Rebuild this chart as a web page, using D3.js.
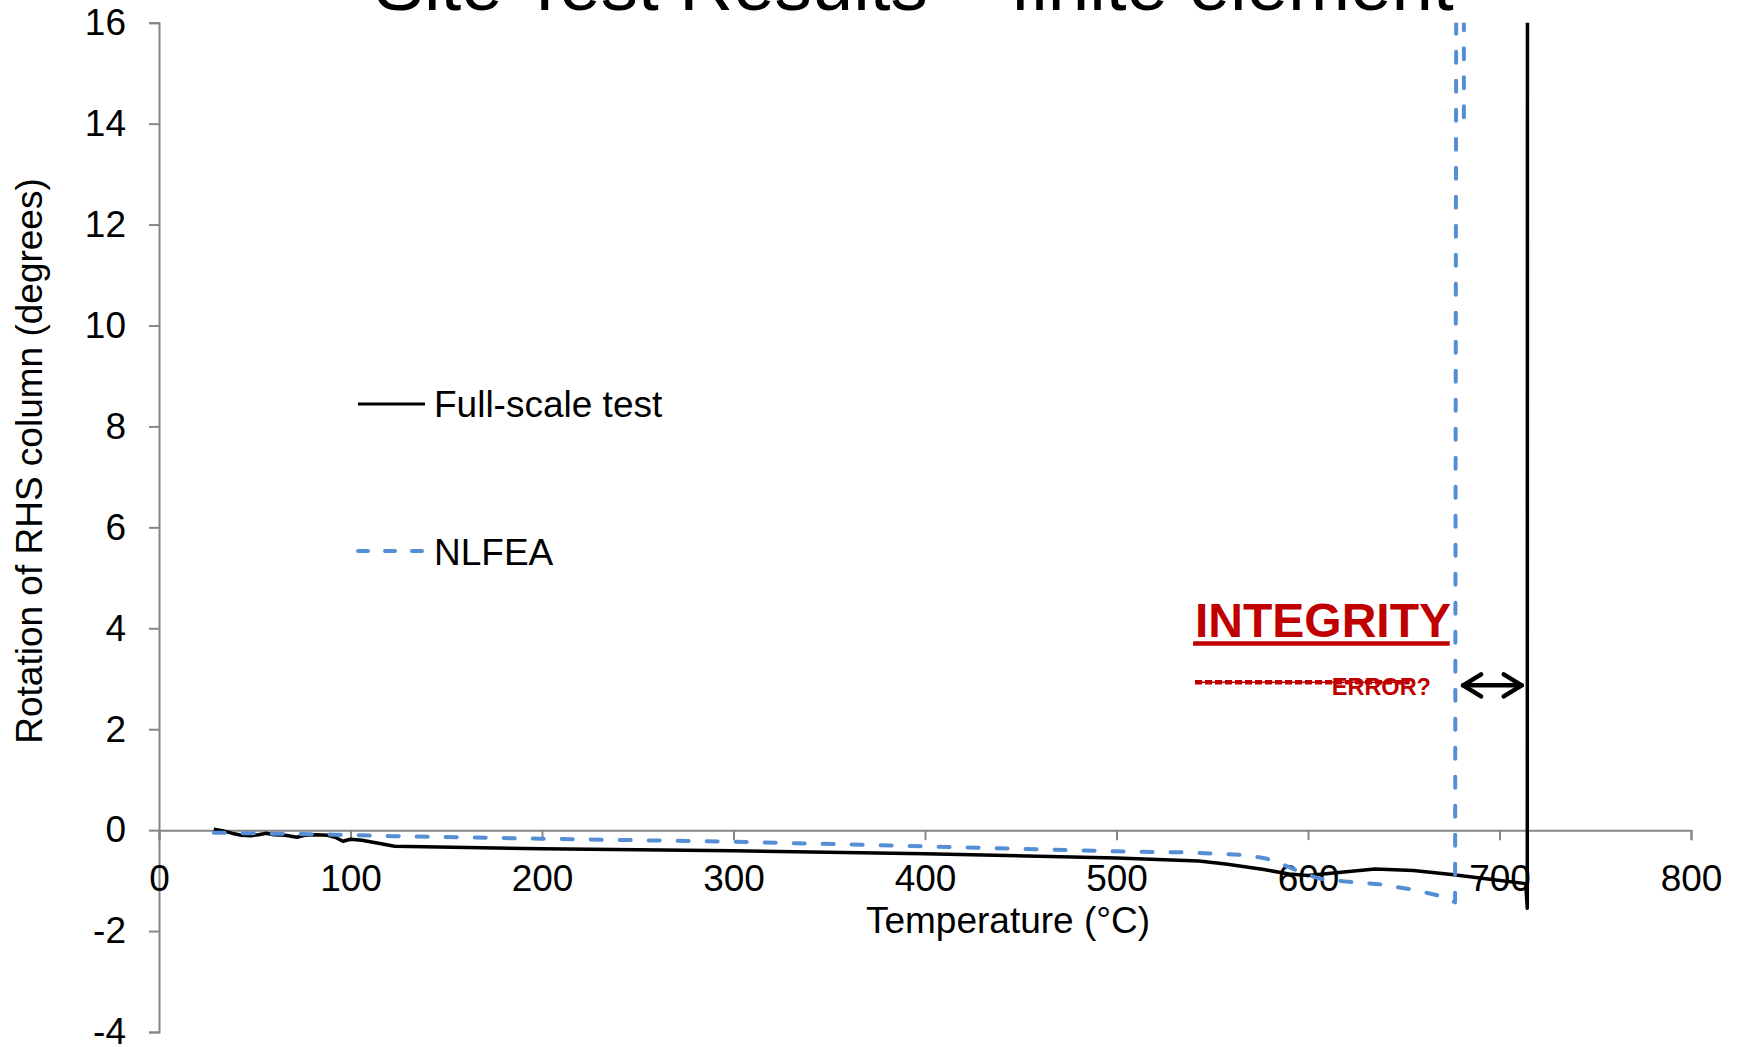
<!DOCTYPE html>
<html>
<head>
<meta charset="utf-8">
<script src="https://cdn.jsdelivr.net/npm/d3@7"></script>
<style>
  html, body { margin: 0; padding: 0; background: #fff; }
  svg { display: block; }
  text { font-family: "Liberation Sans", Arial, Helvetica, sans-serif; }
</style>
</head>
<body>
<svg id="chart" width="1739" height="1047"></svg>
<script>
// Full-scale test: temperature (°C) and rotation (degrees)
const fullScaleTemp = [28.6, 33, 38, 43, 48, 52, 56, 60, 66, 72, 76, 82, 88, 92, 96, 100, 106, 116, 123,
  200, 300, 400, 500, 543, 557, 577, 590, 600, 616, 635, 655, 675, 694, 713.7, 714.5, 714.6];
const fullScaleRot = [0.02, -0.01, -0.06, -0.10, -0.11, -0.09, -0.06, -0.09, -0.10, -0.14, -0.10, -0.09, -0.10, -0.14, -0.22, -0.18, -0.20, -0.27, -0.32,
  -0.37, -0.41, -0.47, -0.55, -0.61, -0.67, -0.78, -0.87, -0.90, -0.84, -0.77, -0.80, -0.88, -0.97, -1.06, -1.55, 17];

// NLFEA prediction
const nlfeaTemp = [28.6, 60, 91.6, 121.6, 200, 300, 400, 500, 535, 566, 578, 588, 598, 606, 620, 637, 655, 671, 676.8, 677.4, 681.4, 681.4];
const nlfeaRot = [-0.05, -0.07, -0.09, -0.12, -0.17, -0.23, -0.32, -0.42, -0.44, -0.49, -0.56, -0.70, -0.86, -0.96, -1.02, -1.07, -1.18, -1.32, -1.43, 17, 17, 13.9];

const xTicks = [0, 100, 200, 300, 400, 500, 600, 700, 800];
const yTicks = [-4, -2, 0, 2, 4, 6, 8, 10, 12, 14, 16];

const seriesNames = ["Full-scale test", "NLFEA"];
const titleText = "Site Test Results \u2013 finite element";
const xTitle = "Temperature (\u00B0C)";
const yTitle = "Rotation of RHS column (degrees)";

// Annotation anchors in data units
const integrityAt = { t: 541, r: 3.82, underlineEnd: 674, underlineR: 3.70 };
const errorAt = { t: 612.4, r: 2.68, dashStart: 541, dashEnd: 653, dashR: 2.93 };
const gapArrow = { from: 681, to: 711.6, r: 2.87 };

const svg = d3.select("#chart");
const x = d3.scaleLinear().domain([0, 800]).range([159, 1691]);
const y = d3.scaleLinear().domain([-4, 16]).range([1032, 22.7]);

const axisColor = "#868686";
const blue = "#558ED5";
const red = "#C00000";

// Title (runs off the top edge)
svg.append("text")
  .attr("x", 914).attr("y", 10)
  .attr("text-anchor", "middle")
  .attr("font-size", 74.5)
  .attr("fill", "#000")
  .text(titleText);

// Y axis
const yAxis = svg.append("g")
  .attr("transform", `translate(${x(0)},0)`)
  .call(d3.axisLeft(y).tickValues(yTicks).tickSize(10).tickSizeOuter(10).tickPadding(23).tickFormat(d3.format("d")));
// X axis at zero rotation
const xAxis = svg.append("g")
  .attr("transform", `translate(0,${y(0)})`)
  .call(d3.axisBottom(x).tickValues(xTicks).tickSize(10).tickSizeOuter(10).tickPadding(25).tickFormat(d3.format("d")));

[yAxis, xAxis].forEach(g => {
  g.select(".domain").attr("stroke", axisColor).attr("stroke-width", 2);
  g.selectAll(".tick line").attr("stroke", axisColor).attr("stroke-width", 2);
  g.selectAll(".tick text").attr("fill", "#000").attr("font-size", 37)
    .attr("font-family", "'Liberation Sans', Arial, sans-serif");
});
yAxis.selectAll(".tick text").text(d => d < 0 ? "-" + Math.abs(d) : d);

// Axis titles
svg.append("text")
  .attr("transform", `translate(42,461) rotate(-90)`)
  .attr("text-anchor", "middle")
  .attr("font-size", 37)
  .text(yTitle);
svg.append("text")
  .attr("x", 1008).attr("y", 933)
  .attr("text-anchor", "middle")
  .attr("font-size", 37)
  .text(xTitle);

// Plot clip
svg.append("clipPath").attr("id", "plotClip")
  .append("rect")
  .attr("x", x(0)).attr("y", y(16))
  .attr("width", x(800) - x(0)).attr("height", y(-4) - y(16));

const line = d3.line().x(d => x(d[0])).y(d => y(d[1]));
const plot = svg.append("g").attr("clip-path", "url(#plotClip)");

plot.append("path")
  .datum(fullScaleTemp.map((t, i) => [t, fullScaleRot[i]]))
  .attr("d", line)
  .attr("fill", "none")
  .attr("stroke", "#000")
  .attr("stroke-width", 3.5)
  .attr("stroke-linejoin", "round");

plot.append("path")
  .datum(nlfeaTemp.map((t, i) => [t, nlfeaRot[i]]))
  .attr("d", line)
  .attr("fill", "none")
  .attr("stroke", blue)
  .attr("stroke-width", 4)
  .attr("stroke-dasharray", "11,18")
  .attr("stroke-linecap", "round")
  .attr("stroke-linejoin", "round");

// Legend
const legend = svg.append("g");
const legendRows = [
  { name: seriesNames[0], yLine: 404, yText: 417, stroke: "#000", width: 3, dash: null },
  { name: seriesNames[1], yLine: 551, yText: 565, stroke: blue, width: 4, dash: "10,17" }
];
legendRows.forEach(r => {
  const l = legend.append("line")
    .attr("x1", 358).attr("x2", 425)
    .attr("y1", r.yLine).attr("y2", r.yLine)
    .attr("stroke", r.stroke).attr("stroke-width", r.width);
  if (r.dash) l.attr("stroke-dasharray", r.dash).attr("stroke-linecap", "round");
  legend.append("text")
    .attr("x", 434).attr("y", r.yText)
    .attr("font-size", 37)
    .text(r.name);
});

// INTEGRITY annotation
svg.append("text")
  .attr("x", x(integrityAt.t)).attr("y", y(integrityAt.r))
  .attr("font-size", 48).attr("font-weight", "bold")
  .attr("fill", red)
  .text("INTEGRITY");
svg.append("line")
  .attr("x1", x(integrityAt.t - 1)).attr("x2", x(integrityAt.underlineEnd))
  .attr("y1", y(integrityAt.underlineR)).attr("y2", y(integrityAt.underlineR))
  .attr("stroke", red).attr("stroke-width", 4.5);

// ERROR? with dashed strike line
svg.append("line")
  .attr("x1", x(errorAt.dashStart)).attr("x2", x(errorAt.dashEnd))
  .attr("y1", y(errorAt.dashR)).attr("y2", y(errorAt.dashR))
  .attr("stroke", red).attr("stroke-width", 1.5);
svg.append("line")
  .attr("x1", x(errorAt.dashStart)).attr("x2", x(errorAt.dashEnd))
  .attr("y1", y(errorAt.dashR)).attr("y2", y(errorAt.dashR))
  .attr("stroke", red).attr("stroke-width", 4.5)
  .attr("stroke-dasharray", "7,3");
svg.append("text")
  .attr("x", x(errorAt.t)).attr("y", y(errorAt.r))
  .attr("font-size", 23.5).attr("font-weight", "bold")
  .attr("fill", red)
  .text("ERROR?");

// Double-headed arrow spanning the gap between the two failure temperatures
const ax1 = x(gapArrow.from), ax2 = x(gapArrow.to), ay = y(gapArrow.r);
const arrow = svg.append("g")
  .attr("stroke", "#000").attr("stroke-width", 4.5)
  .attr("stroke-linecap", "round").attr("stroke-linejoin", "round")
  .attr("fill", "none");
arrow.append("line").attr("x1", ax1).attr("x2", ax2).attr("y1", ay).attr("y2", ay);
arrow.append("path").attr("d", `M${ax1 + 18},${ay - 11}L${ax1},${ay}L${ax1 + 18},${ay + 11}`);
arrow.append("path").attr("d", `M${ax2 - 18},${ay - 11}L${ax2},${ay}L${ax2 - 18},${ay + 11}`);
</script>
</body>
</html>
